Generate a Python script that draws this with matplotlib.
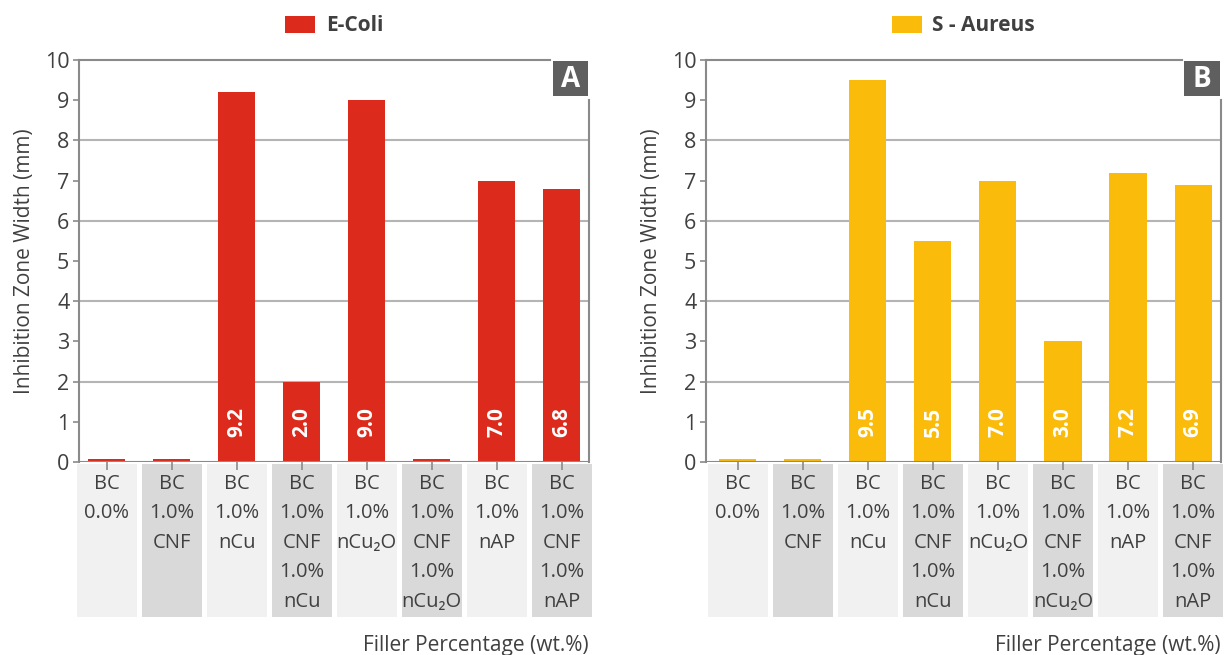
#!/usr/bin/env python3
"""
Inhibition zone width for the BC composites against E-Coli and S - Aureus
"""

import matplotlib
matplotlib.use('Agg')
import matplotlib.pyplot as plt
import matplotlib.transforms as mtransforms
from matplotlib.patches import Patch, Rectangle

plt.rcParams['font.family'] = ['Open Sans', 'DejaVu Sans']

# Sample groups (one column per composite)
categories = ['BC\n0.0%', 'BC\n1.0%\nCNF', 'BC\n1.0%\nnCu', 'BC\n1.0%\nCNF\n1.0%\nnCu',
              'BC\n1.0%\nnCu₂O', 'BC\n1.0%\nCNF\n1.0%\nnCu₂O', 'BC\n1.0%\nnAP',
              'BC\n1.0%\nCNF\n1.0%\nnAP']

# Inhibition zone widths (mm); the near-zero groups show as a thin sliver
ecoli = [0.07, 0.07, 9.2, 2.0, 9.0, 0.07, 7.0, 6.8]
saureus = [0.07, 0.07, 9.5, 5.5, 7.0, 3.0, 7.2, 6.9]

TEXT = '#404040'
AXIS = '#8a8a8a'
GRID = '#b4b4b4'


def draw_panel(ax, values, color, name, letter, xlim):
    x = list(range(len(values)))
    ax.bar(x, values, width=0.57, color=color, zorder=3)

    for xi, v in zip(x, values):
        if v >= 1:
            ax.text(xi, 1.0, f'{v:.1f}', rotation=90, ha='center', va='center',
                    color='white', fontsize=15, fontweight='bold', zorder=4)

    ax.set_xlim(*xlim)
    ax.set_ylim(0, 10)
    ax.set_yticks(range(11))

    # gridlines every 2 mm, top line stops short of the panel letter
    for g in (2, 4, 6, 8):
        ax.axhline(g, color=GRID, lw=1.5, zorder=1)
    ax.axhline(10, xmin=0, xmax=0.924, color=AXIS, lw=1.5, clip_on=False, zorder=1)

    for side in ('top', 'bottom'):
        ax.spines[side].set_visible(False)
    ax.axhline(0, color=AXIS, lw=1.5, zorder=4)
    ax.spines['left'].set_color(AXIS)
    ax.spines['left'].set_linewidth(1.5)
    ax.spines['right'].set_color(AXIS)
    ax.spines['right'].set_linewidth(1.5)
    ax.spines['right'].set_bounds(0, 9.0)

    ax.tick_params(axis='y', length=4, width=1.2, color=AXIS, labelcolor=TEXT,
                   labelsize=15.5, pad=3)
    ax.tick_params(axis='x', length=6, width=1.2, color=AXIS, labelcolor=TEXT,
                   labelsize=14.5, pad=2.5)
    ax.set_xticks(x)
    ax.set_xticklabels(categories, linespacing=1.63, va='top', ha='center')

    # shaded label cells under the axis
    trans = mtransforms.blended_transform_factory(ax.transData, ax.transAxes)
    for xi in x:
        fc = '#f1f1f1' if xi % 2 == 0 else '#d9d9d9'
        ax.add_patch(Rectangle((xi - 0.46, -0.386), 0.92, 0.381, transform=trans,
                               facecolor=fc, edgecolor='none', clip_on=False, zorder=0))

    # panel letter
    ax.add_patch(Rectangle((0.929, 0.910), 0.0686, 0.087, transform=ax.transAxes,
                           facecolor='#5f5f5f', edgecolor='none', clip_on=False, zorder=5))
    ax.text(0.963, 0.951, letter, transform=ax.transAxes, ha='center', va='center',
            color='white', fontsize=20, fontweight='bold', zorder=6)

    ax.set_ylabel('Inhibition Zone Width (mm)', fontsize=15, color=TEXT, labelpad=7)
    ax.text(1.0, -0.457, 'Filler Percentage (wt.%)', transform=ax.transAxes,
            ha='right', va='center', fontsize=15, color=TEXT)

    ax.legend(handles=[Patch(facecolor=color, edgecolor='none', label=name)],
              loc='lower center', bbox_to_anchor=(0.5, 1.012), frameon=False,
              handlelength=1.45, handleheight=0.87, handletextpad=0.5,
              prop={'size': 15, 'weight': 'bold'}, labelcolor=TEXT)


fig = plt.figure(figsize=(12.26, 6.55), dpi=100)
ax1 = fig.add_axes([79 / 1226, 193 / 655, 510 / 1226, 402 / 655])
ax2 = fig.add_axes([706 / 1226, 193 / 655, 515 / 1226, 402 / 655])

draw_panel(ax1, ecoli, '#dc2a1c', 'E-Coli', 'A', (-0.43, 7.42))
draw_panel(ax2, saureus, '#fbbb0a', 'S - Aureus', 'B', (-0.49, 7.43))

fig.savefig('out.png', dpi=100, facecolor='white')
print('Saved: out.png')
